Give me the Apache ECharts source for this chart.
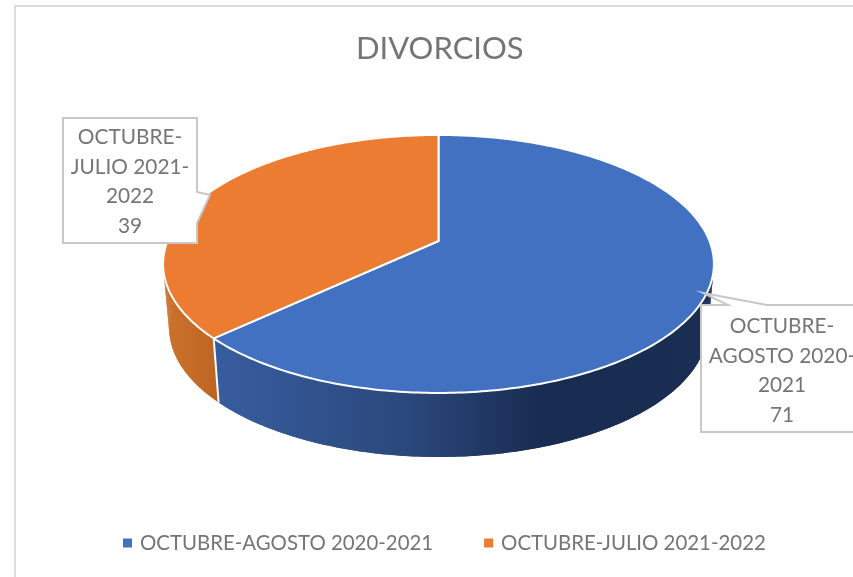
<!DOCTYPE html>
<html><head><meta charset="utf-8">
<style>html,body{margin:0;padding:0;background:#fff}#c{width:853px;height:577px}</style>
<script src="https://cdn.jsdelivr.net/npm/echarts@6/dist/echarts.min.js"></script>
</head><body><div id="c"></div>
<script>
const chartTitle = 'DIVORCIOS';
const categories = ['OCTUBRE-AGOSTO 2020-2021', 'OCTUBRE-JULIO 2021-2022'];
const values = [71, 39];
const calloutText = ['OCTUBRE-\nAGOSTO 2020-\n2021', 'OCTUBRE-\nJULIO 2021-\n2022'];
const topColors = ['#4271C2', '#EB7C31'];

const total = values.reduce((a, b) => a + b, 0);
// View of the tilted disc
const cx = 438.5, R = 271, persp = -0.178, A = 82, B = 241, depth = 64, shrink = 0.978;
function rim(frac) {
  const t = frac * 2 * Math.PI;
  const w = t - (5.8 * Math.PI / 180) * Math.sin(2 * t);
  const X = Math.sin(w), Y = -Math.cos(w), d = 1 + persp * Y;
  return [cx + R * X / d, (A * Y + B) / d];
}
function arc(f0, f1) {
  const pts = [], n = Math.max(2, Math.ceil((f1 - f0) * 360));
  for (let i = 0; i <= n; i++) pts.push(rim(f0 + (f1 - f0) * i / n));
  return pts;
}
const wallFill = [
  {type:'linear', global:true, x:220, y:0, x2:700, y2:0, colorStops:[
    {offset:0, color:'#375c9e'}, {offset:0.4, color:'#2a477a'},
    {offset:0.68, color:'#182b50'}, {offset:1, color:'#1a2d52'}]},
  {type:'linear', global:true, x:165, y:0, x2:220, y2:0, colorStops:[
    {offset:0, color:'#cb722c'}, {offset:1, color:'#bd6423'}]}
];
const calloutStyle = [
  {path:[[701,305],[728,305],[703,293],[767,305],[860,305],[860,432],[701,432]], tx:782, ty:371},
  {path:[[63,118],[197,118],[197,192],[210,195],[197,223],[197,243],[63,243]], tx:130, ty:182}
];
function renderSlice(idx) {
  return function (params, api) {
    const f0 = api.value(0) / total, f1 = (api.value(0) + api.value(1)) / total;
    const top = arc(f0, f1);
    const bottom = top.map(p => [cx + (p[0] - cx) * shrink, p[1] + depth]);
    const cs = calloutStyle[idx];
    // wall body, then overlapping strips so the silhouette reaches the tangents
    const children = [{type:'polygon', shape:{points: top.concat(bottom.slice().reverse())},
      style:{fill: wallFill[idx]}}];
    for (let i = 0; i < top.length - 1; i++) {
      children.push({type:'polygon',
        shape:{points:[top[i], top[i + 1], bottom[i + 1], bottom[i]]},
        style:{fill: wallFill[idx]}});
    }
    children.push(
      {type:'line', shape:{x1:top[0][0], y1:top[0][1], x2:bottom[0][0], y2:bottom[0][1]},
       style:{stroke:'#fff', lineWidth:2}},
      {type:'polygon', shape:{points: top.concat([[cx, B]])},
       style:{fill: topColors[idx], stroke:'#fff', lineWidth:2, lineJoin:'round'}},
      {type:'polygon', shape:{points: cs.path},
       style:{fill:'#fff', stroke:'#c8c8c8', lineWidth:2}},
      {type:'text', x: cs.tx, y: cs.ty,
       style:{text: calloutText[idx] + '\n' + values[idx], align:'center', verticalAlign:'middle',
              font:'20.8px Lato', lineHeight:29.5, fill:'#757575'}}
    );
    return {type:'group', children};
  };
}
let cum = 0;
const series = categories.map((name, i) => {
  const start = cum; cum += values[i];
  return {type:'custom', name, coordinateSystem:'none', silent:true, animation:false,
          itemStyle:{color: topColors[i]}, data:[[start, values[i]]], renderItem: renderSlice(i)};
});
const chart = echarts.init(document.getElementById('c'), null, {renderer:'canvas'});
chart.setOption({
  animation:false,
  backgroundColor:'#fff',
  title:{text: chartTitle, left:356, top:33, padding:0,
    textStyle:{fontFamily:'Lato', fontWeight:'normal', fontSize:31, color:'#757575'}},
  legend:{data: categories, left:118, top:528, icon:'rect', itemWidth:9, itemHeight:9, itemGap:51,
    textStyle:{fontFamily:'Lato', fontSize:20.4, color:'#757575', padding:[0,0,0,3]}},
  graphic:[{type:'polyline', silent:true, z:-1,
    shape:{points:[[15,577],[15,6],[853,6]]}, style:{stroke:'#dcdcdc', lineWidth:2, fill:null}}],
  series
});
</script></body></html>
